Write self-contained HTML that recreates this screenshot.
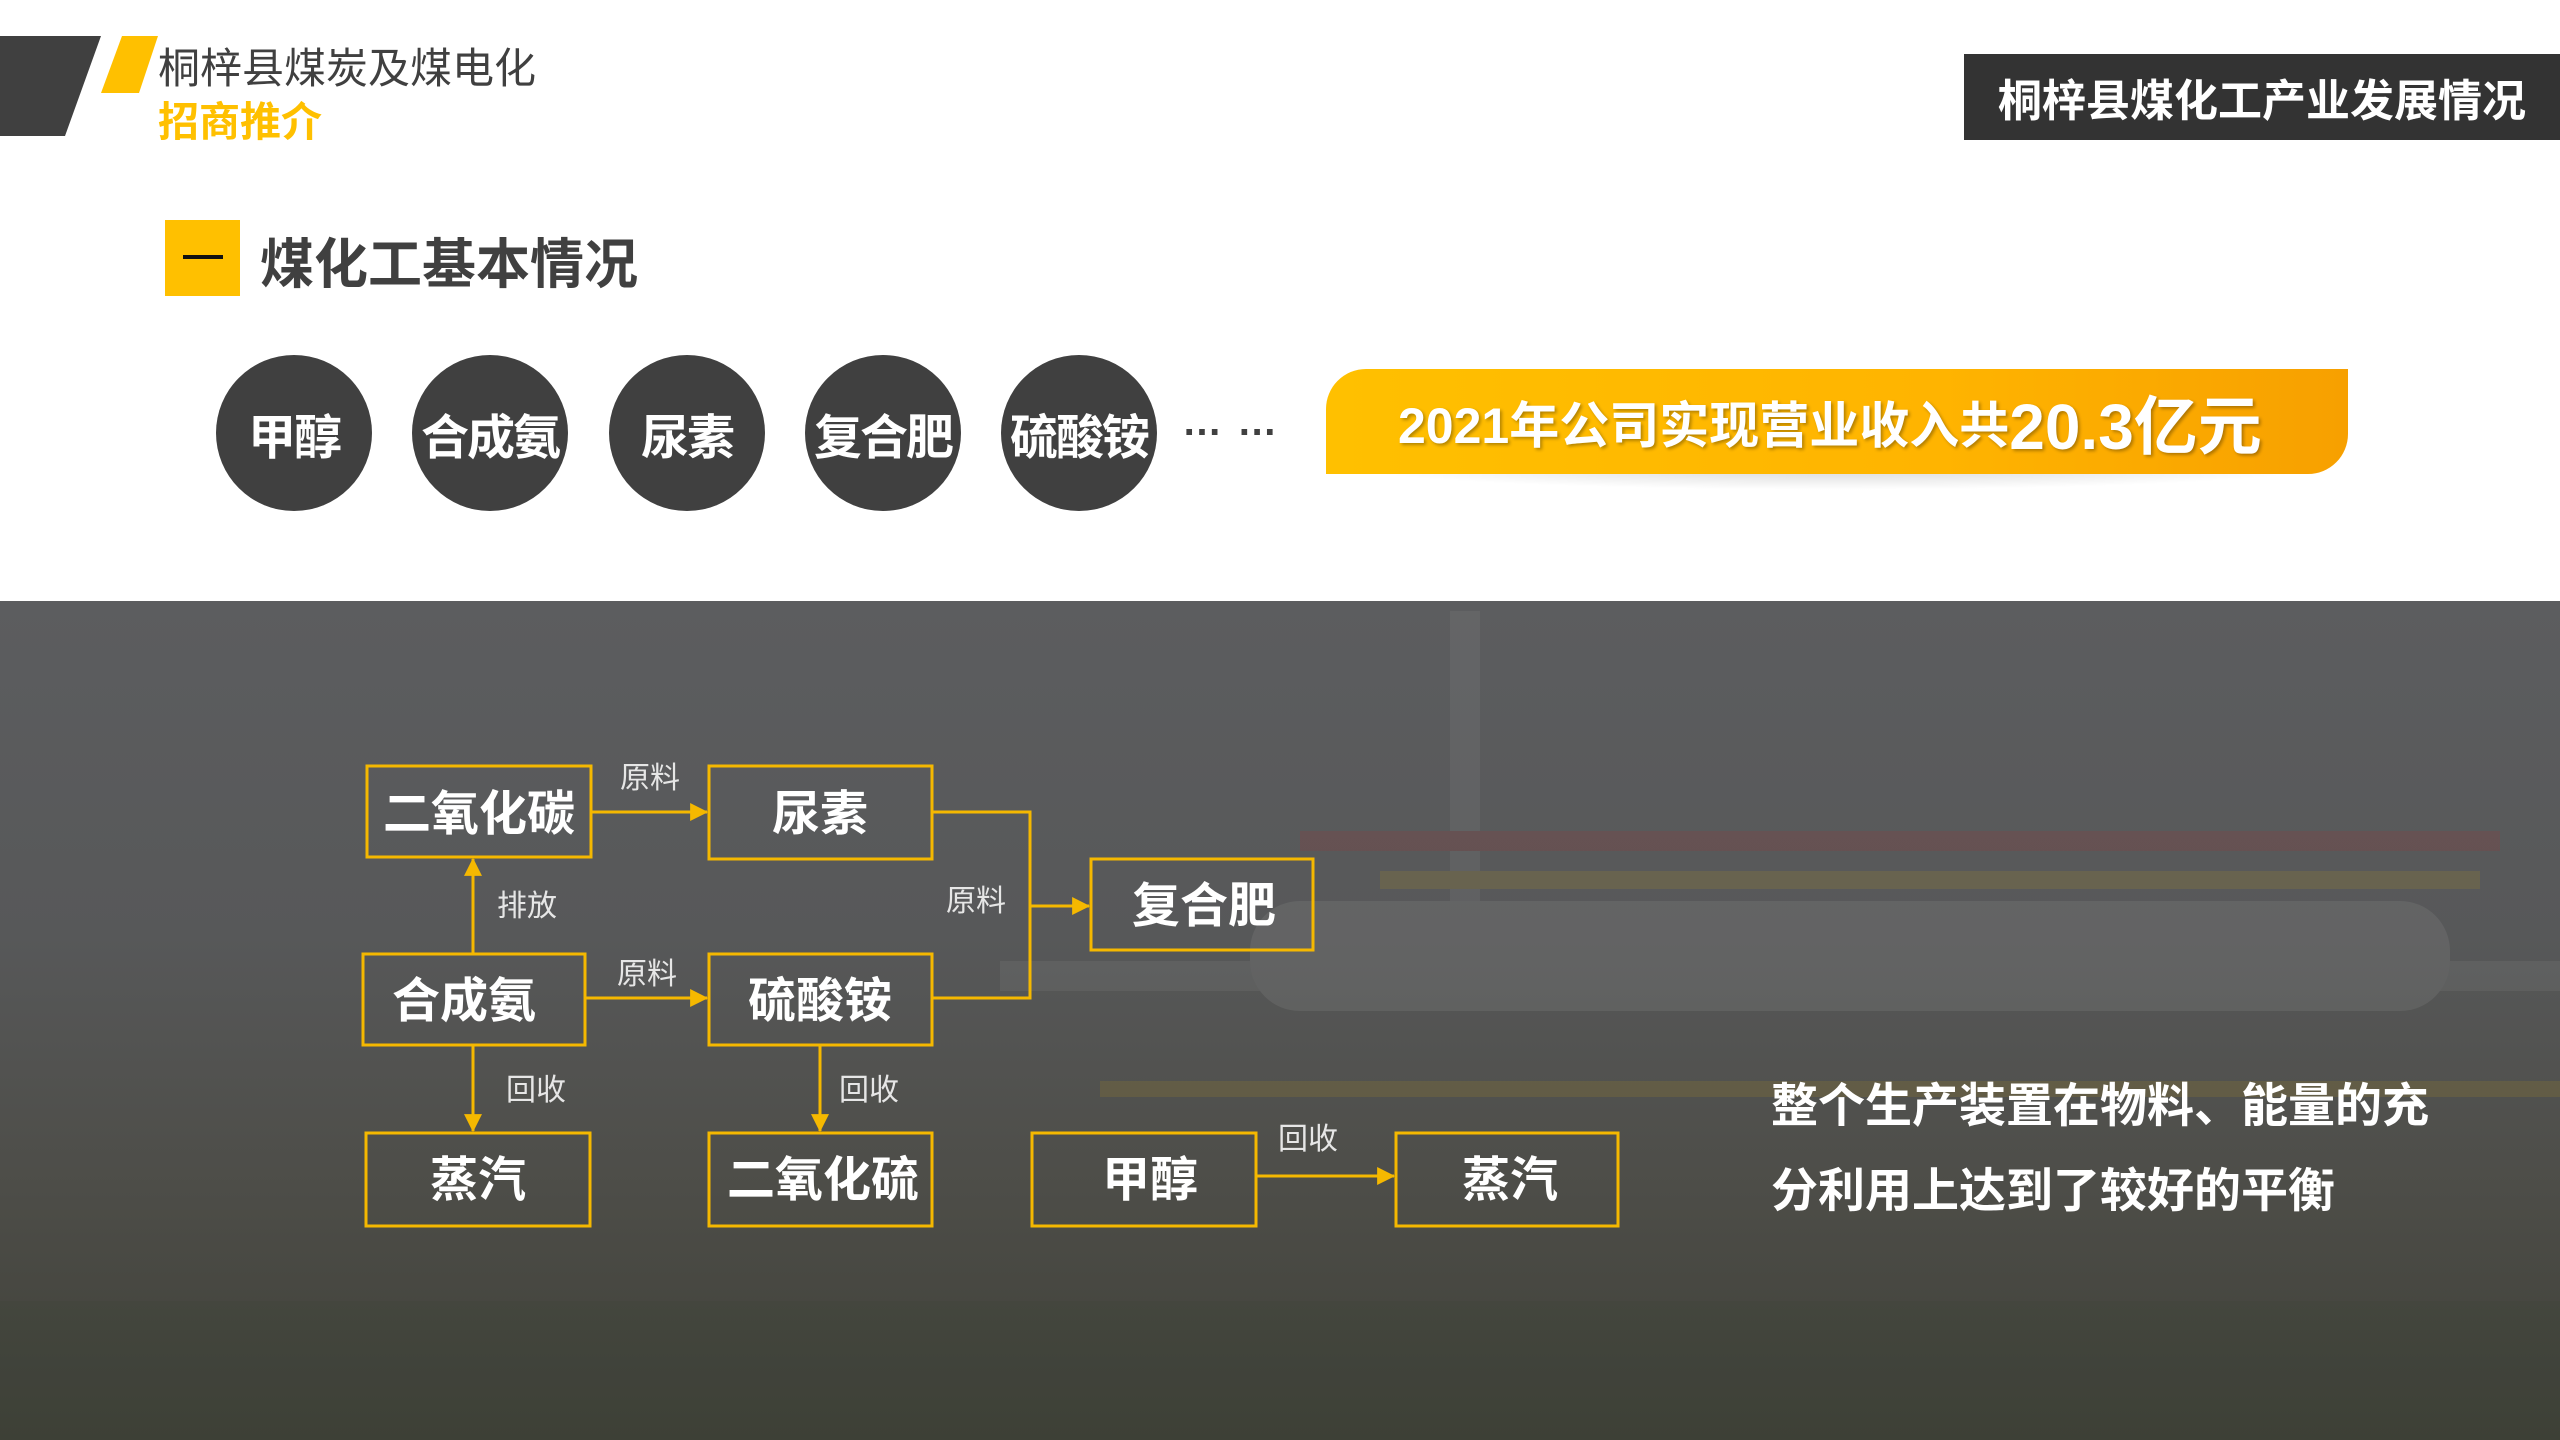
<!DOCTYPE html>
<html><head><meta charset="utf-8"><style>
*{margin:0;padding:0;box-sizing:border-box}
body{width:2560px;height:1440px;position:relative;overflow:hidden;background:#fff;font-family:"Liberation Sans","Noto Sans CJK SC",sans-serif}
.abs{position:absolute}
.circ{position:absolute;width:156px;height:156px;border-radius:50%;background:#404040;color:#fff;font-weight:bold;font-size:48px;display:flex;align-items:center;justify-content:center;top:355px;white-space:nowrap;letter-spacing:-2px}
</style></head><body>
<svg class="abs" style="left:0;top:0" width="200" height="160"><polygon points="0,36 101,36 65,136 0,136" fill="#404040"/><polygon points="122,36 158,36 139,93 101,93" fill="#ffc000"/></svg>
<div class="abs" style="left:158px;top:43px;font-size:42px;color:#404040;line-height:52px">桐梓县煤炭及煤电化</div>
<div class="abs" style="left:158px;top:96px;font-size:41px;color:#ffc000;font-weight:bold;line-height:52px">招商推介</div>
<div class="abs" style="left:1964px;top:54px;width:596px;height:86px;background:#333;color:#fff;font-weight:bold;font-size:44px;display:flex;align-items:center;justify-content:center">桐梓县煤化工产业发展情况</div>
<div class="abs" style="left:165px;top:220px;width:75px;height:76px;background:#ffc000"></div>
<div class="abs" style="left:183px;top:255px;width:40px;height:4px;background:#111"></div>
<div class="abs" style="left:260px;top:232px;font-size:54px;font-weight:bold;color:#404040;line-height:66px">煤化工基本情况</div>
<div class="circ" style="left:216px">甲醇</div>
<div class="circ" style="left:412px">合成氨</div>
<div class="circ" style="left:609px">尿素</div>
<div class="circ" style="left:805px">复合肥</div>
<div class="circ" style="left:1001px">硫酸铵</div>
<div class="abs" style="left:1182px;top:400px;font-size:40px;font-weight:bold;color:#404040;letter-spacing:2px">… …</div>
<div class="abs" style="left:1336px;top:440px;width:1000px;height:50px;background:radial-gradient(ellipse at center,rgba(0,0,0,0.18),rgba(0,0,0,0) 70%)"></div>
<div class="abs" style="left:1326px;top:369px;width:1022px;height:105px;background:linear-gradient(90deg,#ffc000,#ffb400 60%,#f7a000);border-radius:40px 0 40px 0;color:#fff;font-weight:bold;display:flex;align-items:center;padding-left:72px;text-shadow:2px 2px 3px rgba(0,0,0,0.3)"><span style="font-size:50px">2021年公司实现营业收入共</span><span style="font-size:64px">20.3亿元</span></div>
<div class="abs" style="left:0;top:601px;width:2560px;height:839px;background:linear-gradient(180deg,#5c5d5f 0%,#575859 40%,#4d4d48 70%,#3f4038 100%)"></div>
<svg class="abs" style="left:0;top:601px" width="2560" height="839">
<g opacity="0.18">
<rect x="1450" y="10" width="30" height="400" fill="#888"/>
<rect x="1000" y="360" width="1560" height="30" fill="#8a8a8a"/>
<rect x="1300" y="230" width="1200" height="20" fill="#a03030"/>
<rect x="1380" y="270" width="1100" height="18" fill="#b09020"/>
<rect x="1250" y="300" width="1200" height="110" rx="50" fill="#999"/>
<rect x="1100" y="480" width="1460" height="16" fill="#b09020"/>
<rect x="0" y="700" width="2560" height="139" fill="#3a4030"/>
</g></svg>
<svg class="abs" style="left:0;top:0" width="2560" height="1440" font-family="Liberation Sans,Noto Sans CJK SC,sans-serif">
<defs><marker id="a" markerWidth="18" markerHeight="18" refX="15" refY="8" orient="auto" markerUnits="userSpaceOnUse" viewBox="0 0 16 16"><path d="M0,0 L16,8 L0,16z" fill="#f5b800"/></marker></defs>
<g fill="none" stroke="#f5b800" stroke-width="3">
<rect x="367" y="766" width="224" height="91"/>
<rect x="709" y="766" width="223" height="93"/>
<rect x="1091" y="859" width="222" height="91"/>
<rect x="363" y="954" width="222" height="91"/>
<rect x="709" y="954" width="223" height="91"/>
<rect x="366" y="1133" width="224" height="93"/>
<rect x="709" y="1133" width="223" height="93"/>
<rect x="1032" y="1133" width="224" height="93"/>
<rect x="1396" y="1133" width="222" height="93"/>
<line x1="591" y1="812" x2="707" y2="812" marker-end="url(#a)"/>
<polyline points="932,812 1030,812 1030,998 932,998"/>
<line x1="1030" y1="906" x2="1089" y2="906" marker-end="url(#a)"/>
<line x1="473" y1="954" x2="473" y2="859" marker-end="url(#a)"/>
<line x1="585" y1="998" x2="707" y2="998" marker-end="url(#a)"/>
<line x1="473" y1="1045" x2="473" y2="1131" marker-end="url(#a)"/>
<line x1="820" y1="1045" x2="820" y2="1131" marker-end="url(#a)"/>
<line x1="1256" y1="1176" x2="1394" y2="1176" marker-end="url(#a)"/>
</g>
<g fill="#fff" font-weight="bold" font-size="48" text-anchor="middle">
<text x="479" y="830">二氧化碳</text><text x="820" y="830">尿素</text><text x="1204" y="922">复合肥</text>
<text x="464" y="1017">合成氨</text><text x="820" y="1017">硫酸铵</text><text x="478" y="1196">蒸汽</text>
<text x="823" y="1196">二氧化硫</text><text x="1150" y="1196">甲醇</text><text x="1510" y="1196">蒸汽</text>
</g>
<g fill="#e6e6e6" font-size="30" text-anchor="middle">
<text x="650" y="788">原料</text><text x="976" y="911">原料</text><text x="527" y="916">排放</text>
<text x="647" y="984">原料</text><text x="536" y="1100">回收</text><text x="869" y="1100">回收</text><text x="1308" y="1149">回收</text>
</g>
<g fill="#fff" font-weight="bold" font-size="47">
<text x="1771" y="1122">整个生产装置在物料、能量的充</text>
<text x="1771" y="1207">分利用上达到了较好的平衡</text>
</g>
</svg>
</body></html>
